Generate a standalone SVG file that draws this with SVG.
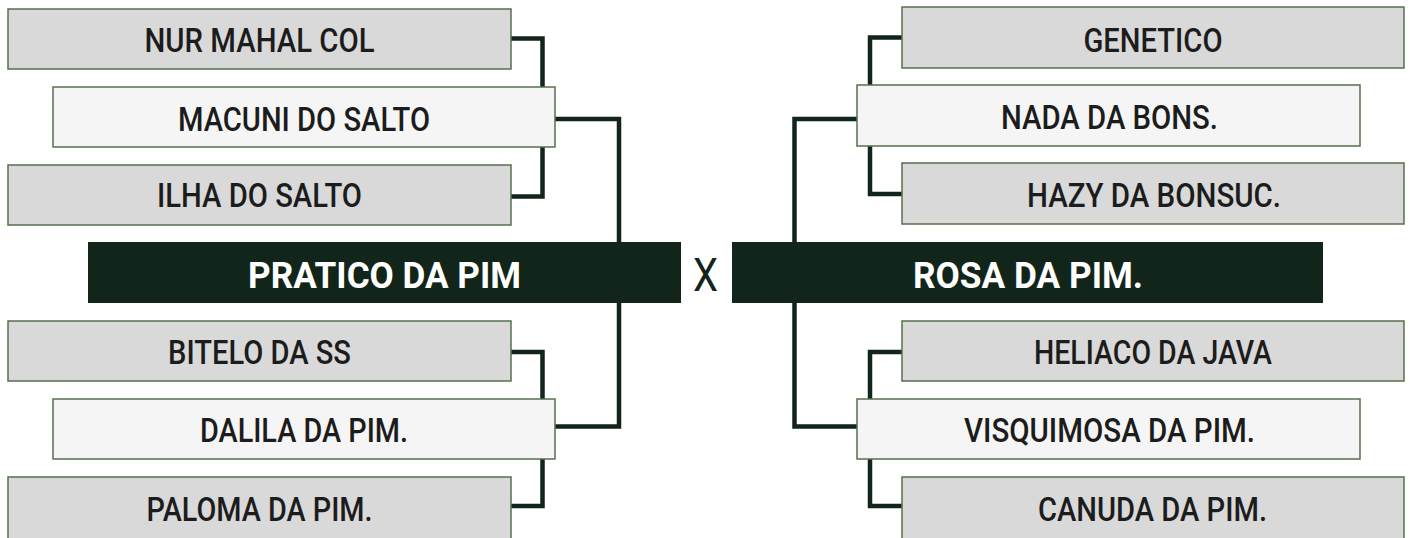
<svg xmlns="http://www.w3.org/2000/svg" width="1410" height="538" viewBox="0 0 1410 538">
<style>
.wire{fill:none;stroke:#12251a;stroke-width:4.5;stroke-linejoin:miter;stroke-linecap:butt}
.gray{fill:#d9d9d9;stroke:#55704a;stroke-width:1.5}
.light{fill:#f5f5f5;stroke:#55704a;stroke-width:1.5}
.dark{fill:#12251a}
.t{font-family:Roboto,"Liberation Sans",sans-serif;font-weight:500;font-size:33px;fill:#1c1c1c;text-anchor:middle}
.tw{font-family:Roboto,"Liberation Sans",sans-serif;font-weight:700;font-size:36px;fill:#ffffff;text-anchor:middle}
.x{font-family:Roboto,"Liberation Sans",sans-serif;font-weight:400;font-size:47px;fill:#12251a;text-anchor:middle}
</style>
<rect width="1410" height="538" fill="#ffffff"/>
<g id="connectors">
<path class="wire" d="M511,38.5 H542.5 V196.5 H511"/>
<path class="wire" d="M555,119 H619 V426.5 H555"/>
<path class="wire" d="M511,352 H542.5 V506 H511"/>
<path class="wire" d="M902,37.5 H870 V194 H902"/>
<path class="wire" d="M857,119 H794.5 V426.5 H857"/>
<path class="wire" d="M902,352 H870 V506 H902"/>
</g>
<g id="nur-mahal-col"><rect class="gray" x="8" y="9" width="503" height="60"/><text class="t" x="259.5" y="52" textLength="230" lengthAdjust="spacingAndGlyphs">NUR MAHAL COL</text></g>
<g id="macuni-do-salto"><rect class="light" x="53" y="87" width="502" height="60"/><text class="t" x="304" y="131" textLength="252" lengthAdjust="spacingAndGlyphs">MACUNI DO SALTO</text></g>
<g id="ilha-do-salto"><rect class="gray" x="8" y="165" width="503" height="60"/><text class="t" x="259.5" y="207" textLength="205" lengthAdjust="spacingAndGlyphs">ILHA DO SALTO</text></g>
<g id="pratico-da-pim"><rect class="dark" x="88" y="242" width="593" height="61"/><text class="tw" x="384.5" y="288" textLength="273" lengthAdjust="spacingAndGlyphs">PRATICO DA PIM</text></g>
<g id="bitelo-da-ss"><rect class="gray" x="8" y="321" width="503" height="60"/><text class="t" x="259.5" y="364" textLength="183" lengthAdjust="spacingAndGlyphs">BITELO DA SS</text></g>
<g id="dalila-da-pim"><rect class="light" x="53" y="399" width="502" height="60"/><text class="t" x="304" y="442" textLength="208" lengthAdjust="spacingAndGlyphs">DALILA DA PIM.</text></g>
<g id="paloma-da-pim"><rect class="gray" x="8" y="477" width="503" height="62"/><text class="t" x="259.5" y="521" textLength="226" lengthAdjust="spacingAndGlyphs">PALOMA DA PIM.</text></g>
<g id="versus"><text class="x" x="705.5" y="291" textLength="25" lengthAdjust="spacingAndGlyphs">X</text></g>
<g id="genetico"><rect class="gray" x="902" y="7" width="502" height="61"/><text class="t" x="1153" y="52" textLength="139" lengthAdjust="spacingAndGlyphs">GENETICO</text></g>
<g id="nada-da-bons"><rect class="light" x="857" y="85" width="503" height="61"/><text class="t" x="1109.5" y="129" textLength="217" lengthAdjust="spacingAndGlyphs">NADA DA BONS.</text></g>
<g id="hazy-da-bonsuc"><rect class="gray" x="902" y="163" width="502" height="61"/><text class="t" x="1154" y="207" textLength="254" lengthAdjust="spacingAndGlyphs">HAZY DA BONSUC.</text></g>
<g id="rosa-da-pim"><rect class="dark" x="732" y="242" width="591" height="61"/><text class="tw" x="1028" y="288" textLength="230" lengthAdjust="spacingAndGlyphs">ROSA DA PIM.</text></g>
<g id="heliaco-da-java"><rect class="gray" x="902" y="321" width="502" height="60"/><text class="t" x="1153" y="364" textLength="238" lengthAdjust="spacingAndGlyphs">HELIACO DA JAVA</text></g>
<g id="visquimosa-da-pim"><rect class="light" x="857" y="399" width="503" height="60"/><text class="t" x="1109.5" y="442" textLength="291" lengthAdjust="spacingAndGlyphs">VISQUIMOSA DA PIM.</text></g>
<g id="canuda-da-pim"><rect class="gray" x="902" y="477" width="502" height="62"/><text class="t" x="1152.5" y="521" textLength="229" lengthAdjust="spacingAndGlyphs">CANUDA DA PIM.</text></g>
</svg>
